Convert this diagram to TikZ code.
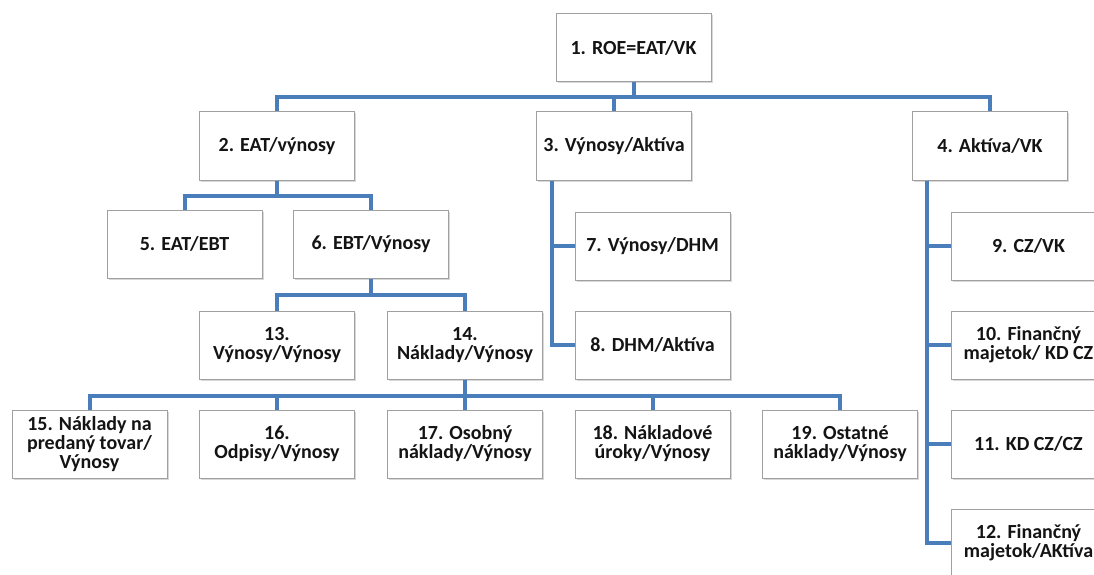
\documentclass[tikz,border=0pt]{standalone}
\usepackage{fontspec}
\setmainfont{Carlito}
\usetikzlibrary{shadows}
\definecolor{linkblue}{RGB}{74,126,187}
\definecolor{boxgray}{RGB}{160,160,160}
\definecolor{txt}{RGB}{20,20,20}
\begin{document}
\begin{tikzpicture}[x=1pt,y=-1pt,
  box/.style={draw=boxgray, line width=1pt, fill=white,
    minimum width=155pt, minimum height=68pt, inner sep=0pt,
    align=center, text=txt,
    font=\fontsize{20}{19}\selectfont\bfseries,
    drop shadow={opacity=0.3, shadow xshift=1.5pt, shadow yshift=-1.5pt}},
  link/.style={draw=linkblue, line width=4pt}]
\useasboundingbox (0,0) rectangle (1094,575);
\clip (0,0) rectangle (1094,575);
\fill[white] (0,0) rectangle (1094,575);

% top level
\node[box] (b1) at (633.5,47.5) {1. ROE=EAT/VK};
\node[box] (b2) at (277,146) {2. EAT/výnosy};
\node[box] (b3) at (614,146) {3. Výnosy/Aktíva};
\node[box] (b4) at (990,146) {4. Aktíva/VK};

% second level
\node[box] (b5) at (184.5,244) {5. EAT/EBT};
\node[box] (b6) at (371,244) {6. EBT/Výnosy};
\node[box] (b7) at (652.5,246) {7. Výnosy/DHM};
\node[box] (b8) at (652.5,345) {8. DHM/Aktíva};
\node[box] (b9) at (1028.5,246) {9. CZ/VK};
\node[box] (b10) at (1028.5,345) {10. Finančný\\majetok/ KD CZ};
\node[box] (b11) at (1028.5,444) {11. KD CZ/CZ};
\node[box] (b12) at (1028.5,543) {12. Finančný\\majetok/AKtíva};

% third level
\node[box] (b13) at (277,345) {13.\\Výnosy/Výnosy};
\node[box] (b14) at (465,345) {14.\\Náklady/Výnosy};

% fourth level
\node[box] (b15) at (89.5,444) {15. Náklady na\\predaný tovar/\\Výnosy};
\node[box] (b16) at (277,444) {16.\\Odpisy/Výnosy};
\node[box] (b17) at (465,444) {17. Osobný\\náklady/Výnosy};
\node[box] (b18) at (652.5,444) {18. Nákladové\\úroky/Výnosy};
\node[box] (b19) at (840,444) {19. Ostatné\\náklady/Výnosy};

% horizontal tree links
\foreach \c in {b2,b3,b4} \draw[link] (b1.south) -- ++(0,15) -| (\c.north);
\foreach \c in {b5,b6} \draw[link] (b2.south) -- ++(0,15) -| (\c.north);
\foreach \c in {b13,b14} \draw[link] (b6.south) -- ++(0,16.5) -| (\c.north);
\foreach \c in {b15,b16,b17,b18,b19} \draw[link] (b14.south) -- ++(0,16) -| (\c.north);

% vertical side links
\foreach \c in {b7,b8} \draw[link] ([xshift=16pt]b3.south west) |- (\c.west);
\foreach \c in {b9,b10,b11,b12} \draw[link] ([xshift=15pt]b4.south west) |- (\c.west);
\end{tikzpicture}
\end{document}
